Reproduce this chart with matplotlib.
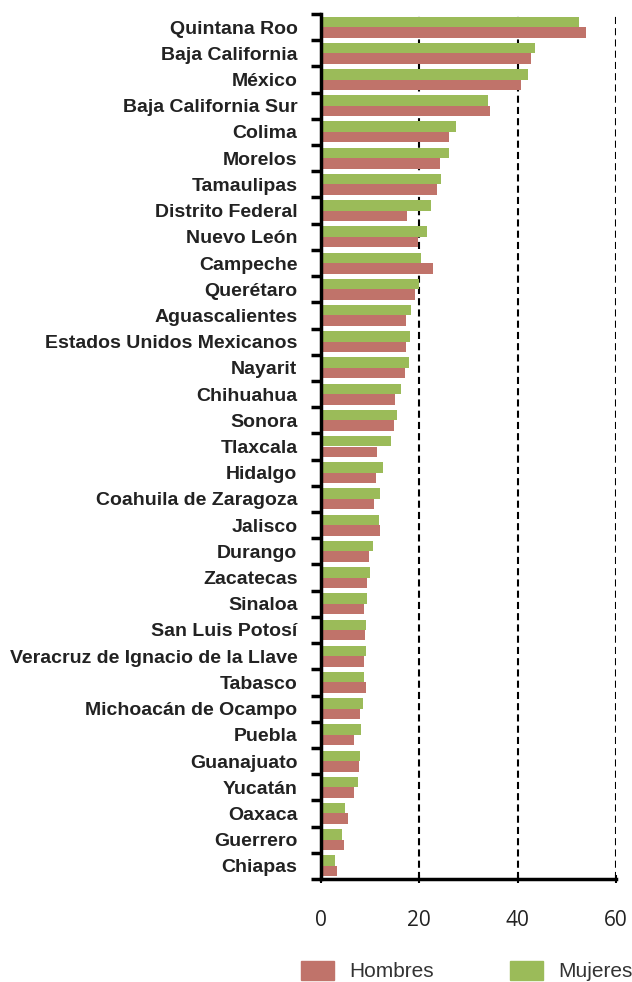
import matplotlib
matplotlib.use("Agg")
import matplotlib.pyplot as plt
import numpy as np
from matplotlib.patches import Patch

estados = ["Quintana Roo", "Baja California", "México", "Baja California Sur", "Colima",
           "Morelos", "Tamaulipas", "Distrito Federal", "Nuevo León", "Campeche",
           "Querétaro", "Aguascalientes", "Estados Unidos Mexicanos", "Nayarit", "Chihuahua",
           "Sonora", "Tlaxcala", "Hidalgo", "Coahuila de Zaragoza", "Jalisco",
           "Durango", "Zacatecas", "Sinaloa", "San Luis Potosí",
           "Veracruz de Ignacio de la Llave", "Tabasco", "Michoacán de Ocampo", "Puebla",
           "Guanajuato", "Yucatán", "Oaxaca", "Guerrero", "Chiapas"]
hombres = [53.9, 42.7, 40.7, 34.4, 26.0, 24.2, 23.5, 17.5, 19.7, 22.7,
           19.1, 17.3, 17.3, 17.1, 15.1, 14.8, 11.4, 11.2, 10.8, 12.0,
           9.7, 9.4, 8.7, 8.9, 8.7, 9.2, 7.9, 6.8, 7.8, 6.7, 5.4, 4.7, 3.2]
mujeres = [52.4, 43.5, 42.1, 34.0, 27.5, 26.1, 24.4, 22.4, 21.5, 20.3,
           20.0, 18.3, 18.2, 17.9, 16.3, 15.5, 14.2, 12.7, 12.0, 11.7,
           10.6, 9.9, 9.4, 9.2, 9.2, 8.7, 8.6, 8.2, 7.9, 7.5, 4.9, 4.2, 2.9]
xticks = [0, 20, 40, 60]

c_h = "#C0736A"
c_m = "#9BBB59"

fig = plt.figure(figsize=(6.32, 9.82), dpi=100)
ax = fig.add_axes([321/632, 1 - 879/982, (616-321)/632, (879-14)/982])

y = np.arange(len(estados))
bh = 0.40
ax.barh(y - bh/2, mujeres, height=bh, color=c_m, zorder=2)
ax.barh(y + bh/2, hombres, height=bh, color=c_h, zorder=2)

ax.set_ylim(len(estados) - 0.5, -0.5)
ax.set_xlim(0, 60)
ax.set_xticks(xticks)
ax.set_xticklabels([str(v) for v in xticks], fontfamily="Open Sans", fontsize=15, color="#222222")
ax.tick_params(axis="x", length=6, width=1.5, pad=19, direction="inout")

ax.set_yticks(y)
ax.set_yticklabels(estados, fontfamily="Liberation Sans", fontsize=14,
                   fontweight="bold", color="#222222")
ax.tick_params(axis="y", which="major", length=0, pad=17)
ax.set_yticks(np.arange(len(estados) + 1) - 0.5, minor=True)
ax.tick_params(axis="y", which="minor", length=7, width=2.5, direction="out")

for v in xticks[1:]:
    ax.axvline(v, color="black", linestyle=(0, (3.4, 2.0)), linewidth=1.5, zorder=1)

for s in ["top", "right"]:
    ax.spines[s].set_visible(False)
ax.spines["left"].set_linewidth(2.5)
ax.spines["bottom"].set_linewidth(2.5)

handles = [Patch(color=c_h, label="Hombres"), Patch(color=c_m, label="Mujeres")]
fig.legend(handles=handles, loc="center left", bbox_to_anchor=(301/632, 1 - 971/982),
           ncol=2, frameon=False, borderpad=0, borderaxespad=0,
           handlelength=1.6, handleheight=1.06,
           handletextpad=0.72, columnspacing=3.65,
           prop={"family": "Liberation Sans", "size": 15}, labelcolor="#333333")

fig.savefig("out.png", dpi=100)
